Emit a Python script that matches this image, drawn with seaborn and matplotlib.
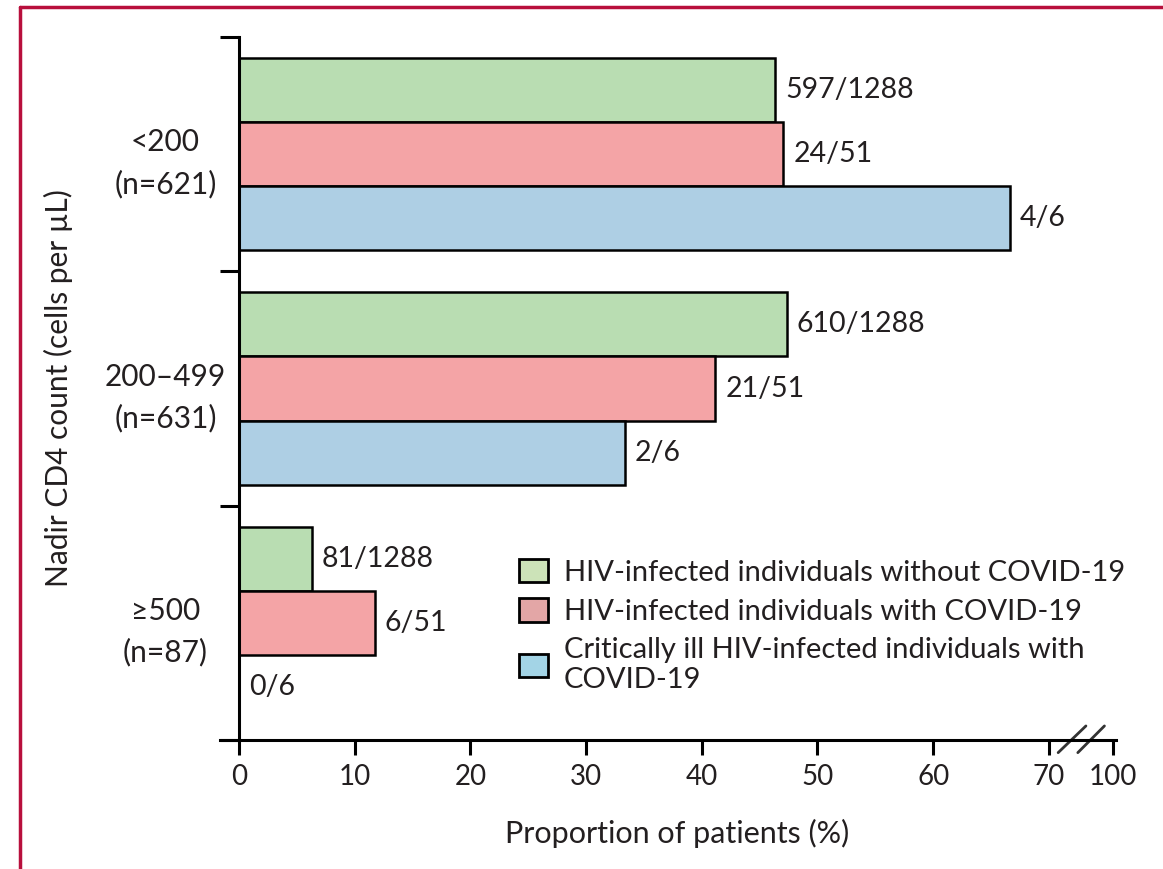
import seaborn as sns
import pandas as pd
import matplotlib.pyplot as plt
from matplotlib.lines import Line2D
from matplotlib.patches import Patch
import matplotlib.transforms as mtransforms

groups = ['<200\n(n=621)', '200–499\n(n=631)', '≥500\n(n=87)']
series = ['HIV-infected individuals without COVID-19',
          'HIV-infected individuals with COVID-19',
          'Critically ill HIV-infected individuals with\nCOVID-19']
counts_without = [597, 610, 81]
counts_with = [24, 21, 6]
counts_critical = [4, 2, 0]
totals = [1288, 51, 6]
colors = ['#b9ddb2', '#f4a4a6', '#aecfe4']
legend_colors = ['#cce3b8', '#e3a6a6', '#a3d4e6']
x_ticks = [0, 10, 20, 30, 40, 50, 60, 70]
x_break_label = '100'

txt = '#231f20'

rows = []
for s, cnts, tot in zip(series, [counts_without, counts_with, counts_critical], totals):
    for g, c in zip(groups, cnts):
        rows.append({'group': g, 'series': s, 'pct': 100.0 * c / tot,
                     'label': f'{c}/{tot}'})
df = pd.DataFrame(rows)

sns.set_style('white')
plt.rcParams['font.family'] = ['Lato', 'DejaVu Sans']

fig = plt.figure(figsize=(11.63, 8.69), dpi=100)
ax = fig.add_axes([239 / 1163, 1 - 740 / 869, 877 / 1163, 703 / 869])

sns.barplot(data=df, y='group', x='pct', hue='series', order=groups,
            hue_order=series, palette=colors, saturation=1, orient='h', width=0.82,
            edgecolor='black', linewidth=1.8, ax=ax, legend=False)

for cont, s in zip(ax.containers, series):
    labs = df[df['series'] == s].set_index('group').loc[groups, 'label'].tolist()
    ax.bar_label(cont, labels=labs, padding=7, fontsize=20.5, color=txt)

ax.set_xlim(0, 75.8)
ax.set_ylim(2.5, -0.5)
ax.set_xticks(x_ticks + [75.5])
ax.set_xticklabels([str(t) for t in x_ticks] + [x_break_label], fontsize=20, color=txt)
ax.set_yticks([-0.5, 0.5, 1.5, 2.5])
ax.set_yticklabels([])
ax.set_yticks([0, 1, 2], minor=True)
ax.set_yticklabels(groups, minor=True, fontsize=21.5, color=txt,
                   multialignment='center', linespacing=1.55)
for t in ax.get_yticklabels(minor=True):
    t.set_horizontalalignment('center')
ax.tick_params(axis='y', which='minor', length=0, pad=53)
ax.tick_params(axis='y', which='major', length=14, width=2.2, color='black', direction='out', left=True)
ax.tick_params(axis='x', length=11, width=2.2, color='black', direction='out', bottom=True, pad=6)

for side in ['top', 'right']:
    ax.spines[side].set_visible(False)
for side in ['left', 'bottom']:
    ax.spines[side].set_linewidth(2.2)
    ax.spines[side].set_color('black')
ax.spines['bottom'].set_bounds(-1.6, 75.8)

ax.set_xlabel('Proportion of patients (%)', fontsize=22, color=txt)
ax.xaxis.set_label_coords(0.5, -0.112)
ax.set_ylabel('Nadir CD4 count (cells per µL)', fontsize=21.5, color=txt)
ax.yaxis.set_label_coords(-0.189, 0.5)

# axis break marks
tr = mtransforms.blended_transform_factory(ax.transData, ax.transAxes)
for x0, x1 in [(70.8, 73.2), (72.5, 74.8)]:
    ax.add_line(Line2D([x0, x1], [-0.018, 0.02], transform=tr, color='#333333',
                       lw=2, clip_on=False))

handles = [Patch(facecolor=c, edgecolor='black', linewidth=2) for c in legend_colors]
leg = ax.legend(handles, series, loc='upper left', bbox_to_anchor=(0.3055, 0.274),
                frameon=False, fontsize=21, handlelength=1.0, handleheight=0.86,
                handletextpad=0.55, labelspacing=0.42, borderaxespad=0)
for t in leg.get_texts():
    t.set_color(txt)

# crimson page border
fig.add_artist(Line2D([20 / 1163, 20 / 1163], [0, 1 - 7 / 869], color='#b80f3c', lw=2.5))
fig.add_artist(Line2D([20 / 1163, 1], [1 - 7 / 869, 1 - 7 / 869], color='#b80f3c', lw=2.5))

fig.savefig('out.png', dpi=100)
